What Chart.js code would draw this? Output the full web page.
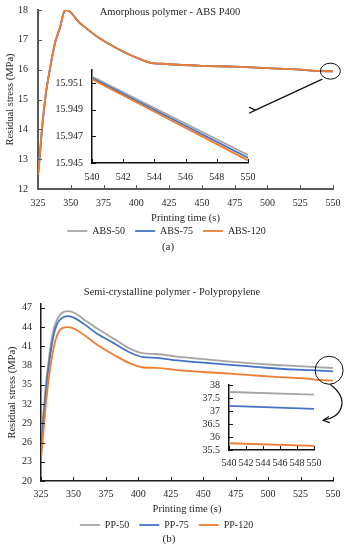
<!DOCTYPE html>
<html>
<head>
<meta charset="utf-8">
<script src="https://cdn.jsdelivr.net/npm/chart.js@4.4.0/dist/chart.umd.min.js"></script>
<style>
  body { margin: 0; background: #fff; }
  #wrap { position: relative; width: 348px; height: 550px; }
  canvas { position: absolute; }
</style>
</head>
<body>
<div id="wrap">
  <canvas id="absMain" style="left:0;top:0" width="348" height="260"></canvas>
  <canvas id="absInset" style="left:50px;top:60px" width="210" height="125"></canvas>
  <canvas id="ppMain" style="left:0;top:260px" width="348" height="290"></canvas>
  <canvas id="ppInset" style="left:195px;top:375px" width="130" height="100"></canvas>
</div>
<script>
// ---- data (a) ABS P400 ----
const absTime = [325, 326, 328, 331, 334, 338, 342, 345, 347, 351, 356, 360, 372, 385, 398, 410, 423, 450, 475, 500, 525, 540, 550];
const abs50  = [12.47, 12.9, 14.0, 15.2, 16.0, 16.9, 17.45, 17.95, 18.0, 17.87, 17.6, 17.45, 17.05, 16.72, 16.44, 16.24, 16.19, 16.13, 16.1, 16.05, 16.0, 15.9515, 15.9456];
const abs75  = [12.47, 12.9, 14.0, 15.2, 16.0, 16.9, 17.45, 17.95, 18.0, 17.87, 17.6, 17.45, 17.05, 16.72, 16.44, 16.24, 16.19, 16.13, 16.1, 16.05, 16.0, 15.9514, 15.9454];
const abs120 = [12.47, 12.9, 14.0, 15.2, 16.0, 16.9, 17.45, 17.95, 18.0, 17.87, 17.6, 17.45, 17.05, 16.72, 16.44, 16.24, 16.19, 16.13, 16.1, 16.05, 16.0, 15.9513, 15.9452];
const absXTicks = [325, 350, 375, 400, 425, 450, 475, 500, 525, 550];
const absYTicks = [12, 13, 14, 15, 16, 17, 18];

const absInsetTime = [540, 550];
const absInset50  = [15.9515, 15.9456];
const absInset75  = [15.9514, 15.9454];
const absInset120 = [15.9513, 15.9452];
const absInsetXTicks = [540, 542, 544, 546, 548, 550];
const absInsetYTicks = [15.945, 15.947, 15.949, 15.951];

// ---- data (b) polypropylene ----
const ppTime = [325, 327, 329, 331, 334, 337, 341, 346, 351, 358, 368, 381, 394, 404, 414, 430, 450, 471, 490, 509, 530, 540, 550];
const pp50  = [26.3, 31, 35.5, 39, 43, 45, 46.2, 46.5, 46.2, 45.2, 43.8, 42.2, 40.6, 39.9, 39.8, 39.4, 39.0, 38.6, 38.3, 38.05, 37.85, 37.73, 37.63];
const pp75  = [25.8, 30, 34.5, 38, 42, 44.3, 45.4, 45.7, 45.4, 44.5, 43.0, 41.5, 40.0, 39.3, 39.2, 38.8, 38.45, 38.1, 37.8, 37.5, 37.3, 37.2, 37.08];
const pp120 = [23.3, 28, 32.5, 36, 40, 42.5, 43.8, 44.0, 43.7, 42.8, 41.3, 39.7, 38.3, 37.7, 37.65, 37.3, 37.0, 36.75, 36.45, 36.2, 35.95, 35.76, 35.66];
const ppXTicks = [325, 350, 375, 400, 425, 450, 475, 500, 525, 550];
const ppYTicks = [20, 23, 26, 29, 32, 35, 38, 41, 44, 47];

const ppInsetTime = [540, 550];
const ppInset50  = [37.73, 37.63];
const ppInset75  = [37.2, 37.08];
const ppInset120 = [35.76, 35.66];
const ppInsetXTicks = [540, 542, 544, 546, 548, 550];
const ppInsetYTicks = [35.5, 36, 36.5, 37, 37.5, 38];

const FONT = "'Liberation Serif', serif";
const INK = '#262626';
const GREY = '#A5A5A5', BLUE = '#4472C4', ORANGE = '#ED7D31';

function pts(xs, ys) { return xs.map((x, i) => ({ x: x, y: ys[i] })); }

function series(label, color, xs, ys, order) {
  return {
    label: label, data: pts(xs, ys), order: order,
    borderColor: color, backgroundColor: color, borderWidth: 1.8,
    pointRadius: 0, pointStyle: 'line', cubicInterpolationMode: 'monotone'
  };
}

function fixedTicks(values) {
  return function (scale) { scale.ticks = values.map(v => ({ value: v })); };
}

// fixed axis thickness, and no extra padding from the label gap
function fitY(w) {
  return function (s) { s.width = w; s.paddingTop = 0; s.paddingBottom = 0; };
}
function fitX(h) {
  return function (s) { s.height = h; s.paddingLeft = 0; s.paddingRight = 0; };
}

// tick marks drawn inside the plot area
function innerTicks(color, width, len) {
  return {
    id: 'innerTicks',
    afterDraw(chart) {
      const ctx = chart.ctx, a = chart.chartArea;
      const xs = chart.scales.x, ys = chart.scales.y;
      ctx.save();
      ctx.strokeStyle = color; ctx.lineWidth = width;
      xs.ticks.forEach(t => {
        const px = Math.round(xs.getPixelForValue(t.value)) + 0.5;
        ctx.beginPath(); ctx.moveTo(px, a.bottom); ctx.lineTo(px, a.bottom - len); ctx.stroke();
      });
      ys.ticks.forEach(t => {
        const py = Math.round(ys.getPixelForValue(t.value)) + 0.5;
        ctx.beginPath(); ctx.moveTo(a.left, py); ctx.lineTo(a.left + len, py); ctx.stroke();
      });
      ctx.restore();
    }
  };
}

// title, panel letter, zoom circle and arrow
function overlay(spec) {
  return {
    id: 'overlay',
    afterDraw(chart) {
      const ctx = chart.ctx;
      const cx = chart.scales.x.getPixelForValue(spec.focus[0]);
      const cy = chart.scales.y.getPixelForValue(spec.focus[1]);
      ctx.save();
      ctx.fillStyle = INK; ctx.textAlign = 'center'; ctx.textBaseline = 'middle';
      ctx.font = '10.5px ' + FONT;
      ctx.fillText(spec.title, spec.titlePos[0], spec.titlePos[1]);
      ctx.font = '11px ' + FONT;
      ctx.fillText(spec.panel, spec.panelPos[0], spec.panelPos[1]);

      ctx.strokeStyle = '#111'; ctx.lineWidth = 1;
      ctx.beginPath(); ctx.ellipse(cx, cy, spec.rx, spec.ry, 0, 0, Math.PI * 2); ctx.stroke();

      const f = spec.from, c1 = spec.c1, c2 = spec.c2, t = spec.to;
      ctx.lineWidth = 1.2;
      ctx.beginPath();
      ctx.moveTo(cx + f[0], cy + f[1]);
      ctx.bezierCurveTo(cx + c1[0], cy + c1[1], cx + c2[0], cy + c2[1], cx + t[0], cy + t[1]);
      ctx.stroke();
      const tx = cx + t[0], ty = cy + t[1];
      const ang = Math.atan2(t[1] - c2[1], t[0] - c2[0]);
      ctx.beginPath();
      ctx.moveTo(tx - 7 * Math.cos(ang - 0.45), ty - 7 * Math.sin(ang - 0.45));
      ctx.lineTo(tx, ty);
      ctx.lineTo(tx - 7 * Math.cos(ang + 0.45), ty - 7 * Math.sin(ang + 0.45));
      ctx.stroke();
      ctx.restore();
    }
  };
}

const tickFont = { family: FONT, size: 10 };
const titleFont = { family: FONT, size: 10.5 };
const fmt = v => String(v);

function mainChart(id, o) {
  return new Chart(document.getElementById(id), {
    type: 'line',
    data: {
      datasets: [
        series(o.names[0], GREY, o.time, o.s[0], 3),
        series(o.names[1], BLUE, o.time, o.s[1], 2),
        series(o.names[2], ORANGE, o.time, o.s[2], 1)
      ]
    },
    options: {
      responsive: false, animation: false,
      layout: { padding: o.padding },
      plugins: {
        legend: {
          position: 'bottom',
          labels: {
            font: tickFont, color: INK, usePointStyle: true, pointStyleWidth: 20, padding: 10,
            sort: (a, b) => a.datasetIndex - b.datasetIndex
          }
        },
        title: { display: false },
        tooltip: { enabled: false }
      },
      scales: {
        x: {
          type: 'linear', min: 325, max: 550,
          afterBuildTicks: fixedTicks(o.xTicks),
          afterFit: fitX(o.xHeight),
          grid: { display: false, drawTicks: false },
          border: { color: o.axisColor, width: o.axisWidth },
          ticks: { font: tickFont, color: INK, padding: o.xPad, autoSkip: false, maxRotation: 0, callback: fmt },
          title: { display: true, text: 'Printing time (s)', font: titleFont, color: INK, padding: { top: 0, bottom: o.xTitleShift } }
        },
        y: {
          min: o.yMin, max: o.yMax,
          afterBuildTicks: fixedTicks(o.yTicks),
          afterFit: fitY(o.yWidth),
          grid: { display: false, drawTicks: false },
          border: { color: o.axisColor, width: o.axisWidth },
          ticks: { font: tickFont, color: INK, padding: o.yPad, autoSkip: false, callback: fmt },
          title: { display: true, text: 'Residual stress (MPa)', font: titleFont, color: INK, padding: { top: o.yTitlePad, bottom: 0 } }
        }
      }
    },
    plugins: [innerTicks(o.axisColor, 1, 4), overlay(o.overlay)]
  });
}

function insetChart(id, o) {
  return new Chart(document.getElementById(id), {
    type: 'line',
    data: {
      datasets: [
        series('a', GREY, o.time, o.s[0], 3),
        series('b', BLUE, o.time, o.s[1], 2),
        series('c', ORANGE, o.time, o.s[2], 1)
      ]
    },
    options: {
      responsive: false, animation: false,
      layout: { padding: o.padding },
      plugins: { legend: { display: false }, title: { display: false }, tooltip: { enabled: false } },
      scales: {
        x: {
          type: 'linear', min: 540, max: 550,
          afterBuildTicks: fixedTicks(o.xTicks),
          afterFit: fitX(o.xHeight),
          grid: { display: false, drawTicks: false },
          border: { color: '#111', width: 1.5 },
          ticks: { font: tickFont, color: INK, padding: o.xPad, autoSkip: false, maxRotation: 0, callback: fmt }
        },
        y: {
          min: o.yMin, max: o.yMax,
          afterBuildTicks: fixedTicks(o.yTicks),
          afterFit: fitY(o.yWidth),
          grid: { display: false, drawTicks: false },
          border: { color: '#111', width: 1.5 },
          ticks: { font: tickFont, color: INK, padding: 9, autoSkip: false, callback: fmt }
        }
      }
    },
    plugins: [innerTicks('#111', 1, 4)]
  });
}

mainChart('absMain', {
  names: ['ABS-50', 'ABS-75', 'ABS-120'],
  time: absTime, s: [abs50, abs75, abs120],
  xTicks: absXTicks, yTicks: absYTicks, yMin: 12, yMax: 18,
  padding: { top: 10, right: 15, bottom: 14, left: 0 },
  xHeight: 27, xTitleShift: -9, xPad: 8, yWidth: 38, yPad: 10, yTitlePad: 4,
  axisColor: '#595959', axisWidth: 2,
  overlay: {
    title: 'Amorphous polymer - ABS P400', titlePos: [170, 12],
    panel: '(a)', panelPos: [168, 247],
    focus: [548, 15.95], rx: 10, ry: 8,
    from: [-8, 8], c1: [-8, 8], c2: [-75, 39], to: [-75, 39]
  }
});

insetChart('absInset', {
  time: absInsetTime, s: [absInset50, absInset75, absInset120],
  xTicks: absInsetXTicks, yTicks: absInsetYTicks, yMin: 15.945, yMax: 15.952,
  padding: { top: 10, right: 12, bottom: 0, left: 0 },
  xHeight: 22, xPad: 8, yWidth: 42
});

mainChart('ppMain', {
  names: ['PP-50', 'PP-75', 'PP-120'],
  time: ppTime, s: [pp50, pp75, pp120],
  xTicks: ppXTicks, yTicks: ppYTicks, yMin: 20, yMax: 47.6,
  padding: { top: 44, right: 15, bottom: 10, left: 0 },
  xHeight: 29, xTitleShift: -6, xPad: 7, yWidth: 41, yPad: 9, yTitlePad: 6,
  axisColor: '#1a1a1a', axisWidth: 1.5,
  overlay: {
    title: 'Semi-crystalline polymer - Polypropylene', titlePos: [172, 32],
    panel: '(b)', panelPos: [169, 279],
    focus: [547, 37.27], rx: 14, ry: 14,
    from: [1, 14], c1: [22, 30], c2: [12, 48], to: [-6, 50]
  }
});

insetChart('ppInset', {
  time: ppInsetTime, s: [ppInset50, ppInset75, ppInset120],
  xTicks: ppInsetXTicks, yTicks: ppInsetYTicks, yMin: 35.5, yMax: 38,
  padding: { top: 10, right: 11, bottom: 0, left: 0 },
  xHeight: 25, xPad: 7, yWidth: 34
});
</script>
</body>
</html>
